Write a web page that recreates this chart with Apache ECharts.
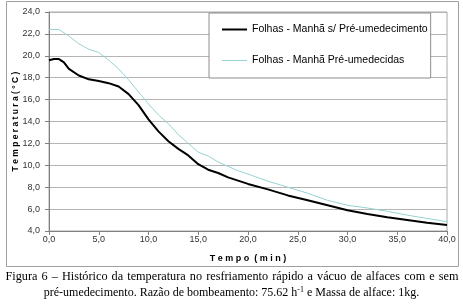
<!DOCTYPE html>
<html><head><meta charset="utf-8">
<script src="https://cdn.jsdelivr.net/npm/echarts@6/dist/echarts.min.js"></script>
<style>html,body{margin:0;padding:0;background:#fff}#c{width:463px;height:305px}</style>
</head><body><div id="c"></div>
<script>
var times = [0,0.5,1,1.5,2,3,4,5,6,7,8,9,10,11,12,13,14,15,16,17,18,19,20,22,24,26,28,30,32,34,36,38,40];
var semPre = [19.6,19.7,19.7,19.4,18.8,18.2,17.85,17.7,17.5,17.2,16.5,15.5,14.2,13.1,12.2,11.5,10.9,10.1,9.6,9.3,8.9,8.6,8.3,7.8,7.25,6.8,6.35,5.9,5.55,5.25,5.0,4.75,4.55];
var comPre = [22.4,22.4,22.4,22.1,21.8,21.1,20.6,20.3,19.6,18.8,17.8,16.7,15.6,14.6,13.8,12.8,12.0,11.2,10.85,10.3,9.9,9.5,9.2,8.55,8.0,7.45,6.8,6.35,6.1,5.8,5.45,5.15,4.85];
var seriesNames = ['Folhas - Manhã s/ Pré-umedecimento','Folhas - Manhã Pré-umedecidas'];
var xTitle = 'T e m p o  ( m i n )';
var yTitle = 'T e m p e r a t u r a ( ° C )';
var caption1 = 'Figura 6 – Histórico da temperatura no resfriamento rápido a vácuo de alfaces com e sem';
var caption2 = 'pré-umedecimento. Razão de bombeamento: 75.62 h{sup|-1} e Massa de alface: 1kg.';

function pairs(v){ return times.map(function(t,i){ return [t, v[i]]; }); }
function fmt(v){ return v.toFixed(1).replace('.', ','); }

var chart = echarts.init(document.getElementById('c'), null, {renderer:'canvas'});
chart.setOption({
  animation:false,
  textStyle:{fontFamily:'Liberation Sans'},
  grid:{left:49,right:16,top:12,bottom:74,show:true,borderColor:'#a8a8a8',borderWidth:1,outerBoundsMode:'none',containLabel:false},
  legend:{
    left:209, top:13, orient:'vertical',
    padding:[11,3,12,12], itemGap:20, itemWidth:25, itemHeight:14,
    backgroundColor:'#fff', borderColor:'#8c8c8c', borderWidth:1,
    textStyle:{fontFamily:'Liberation Sans',fontSize:10.5,color:'#000'},
    data:[
      {name:seriesNames[0],icon:'line',itemStyle:{color:'#000',borderColor:'#000',borderWidth:2}},
      {name:seriesNames[1],icon:'line',itemStyle:{color:'#97d2d2',borderColor:'#97d2d2',borderWidth:1}}
    ]
  },
  xAxis:{
    type:'value', min:0, max:40, interval:5,
    name:xTitle, nameLocation:'middle', nameGap:23, nameMoveOverlap:false,
    nameTextStyle:{fontFamily:'Liberation Sans',fontSize:9,fontWeight:'bold',color:'#000'},
    axisLine:{show:true,lineStyle:{color:'#808080'}},
    axisTick:{show:true,length:4,lineStyle:{color:'#808080'}},
    axisLabel:{formatter:fmt,fontSize:9,color:'#333',margin:4},
    splitLine:{show:false}
  },
  yAxis:{
    type:'value', min:4, max:24, interval:2,
    name:yTitle, nameLocation:'middle', nameGap:29, nameRotate:90, nameMoveOverlap:false,
    nameTextStyle:{fontFamily:'Liberation Sans',fontSize:8.5,fontWeight:'bold',color:'#000'},
    axisLine:{show:true,lineStyle:{color:'#808080'}},
    axisTick:{show:true,length:4,lineStyle:{color:'#808080'}},
    axisLabel:{formatter:fmt,fontSize:9,color:'#333',margin:9},
    splitLine:{show:true,lineStyle:{color:'#b4b4b4',width:1}}
  },
  series:[
    {name:seriesNames[0],type:'line',data:pairs(semPre),symbol:'none',smooth:false,
     lineStyle:{color:'#000',width:2},itemStyle:{color:'#000'},z:3},
    {name:seriesNames[1],type:'line',data:pairs(comPre),symbol:'none',smooth:false,
     lineStyle:{color:'#97d2d2',width:1},itemStyle:{color:'#97d2d2'},z:2}
  ],
  graphic:[
    {type:'rect',shape:{x:6.5,y:1.5,width:452,height:265},style:{fill:'none',stroke:'#a0a0a0',lineWidth:1},silent:true,z:-1},
    {type:'text',x:232,y:277,style:{text:caption1.split(' ').join('\u2004'),fontFamily:'Liberation Serif',fontSize:12.25,fill:'#000',align:'center',verticalAlign:'middle'}},
    {type:'text',x:231.5,y:293,style:{text:caption2,fontFamily:'Liberation Serif',fontSize:12,fill:'#000',align:'center',verticalAlign:'middle',lineHeight:14,
      rich:{sup:{fontFamily:'Liberation Serif',fontSize:8,verticalAlign:'top',lineHeight:8,fill:'#000'}}}}
  ]
});
</script></body></html>
